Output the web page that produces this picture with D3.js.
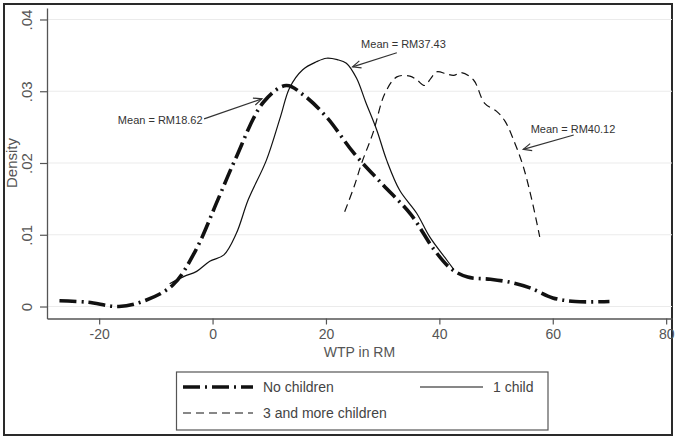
<!DOCTYPE html>
<html><head><meta charset="utf-8">
<script src="https://cdn.jsdelivr.net/npm/d3@7"></script>
<style>body{margin:0;background:#fff}svg{display:block}text{font-family:"Liberation Sans",Arial,sans-serif}</style>
</head><body><svg id="c" width="676" height="439"></svg>
<script>
// ---- data ----
const xTicks = [-20, 0, 20, 40, 60, 80];
const yTicks = [0, 0.01, 0.02, 0.03, 0.04];
const yTickLabels = ["0", ".01", ".02", ".03", ".04"];
const noChildrenX = [-27, -22, -16.5, -12, -7, -3, 1, 4, 9, 13, 16, 20, 25, 30, 35, 39, 42, 45, 49, 53, 56, 60, 64, 70];
const noChildrenY = [0.0008, 0.0006, 0.0000, 0.0008, 0.0030, 0.0078, 0.0150, 0.0205, 0.0285, 0.0308, 0.0295, 0.0265, 0.0213, 0.0170, 0.0128, 0.0080, 0.0053, 0.0041, 0.0038, 0.0033, 0.0026, 0.0012, 0.0007, 0.0007];
const oneChildX = [-7.5, -5, -2.8, -0.5, 2, 4.2, 6.3, 9.5, 12, 13.6, 15.9, 18.3, 20.1, 22, 23.6, 25.4, 27, 29, 30.7, 33, 36, 38.3, 41, 42.5];
const oneChildY = [0.0032, 0.0042, 0.0049, 0.0063, 0.0072, 0.0102, 0.0149, 0.0204, 0.0265, 0.0305, 0.0330, 0.0341, 0.0346, 0.0344, 0.0339, 0.0318, 0.0285, 0.0245, 0.0204, 0.0162, 0.0130, 0.0097, 0.0068, 0.0052];
const threeX = [23.3, 25, 26.3, 28.3, 30.4, 32.5, 34.8, 36, 37.4, 38.5, 39.5, 41.3, 42.5, 43.9, 46, 48, 50.1, 51.6, 53.3, 54.8, 56.3, 57.7];
const threeY = [0.0132, 0.0168, 0.0200, 0.0242, 0.0297, 0.0320, 0.0321, 0.0316, 0.0308, 0.0318, 0.0327, 0.0324, 0.0322, 0.0326, 0.0316, 0.0283, 0.0272, 0.0258, 0.0228, 0.0195, 0.0149, 0.0097];
const seriesNames = ["No children", "1 child", "3 and more children"];
const annTexts = ["Mean = RM18.62", "Mean = RM37.43", "Mean = RM40.12"];
const annTextPos = [[-16.7, 0.02545], [26.2, 0.03605], [56.1, 0.0242]];
const annArrowFrom = [[-1.5, 0.02615], [32.5, 0.03536], [63.7, 0.0239]];
const annArrowTo = [[8.7, 0.02894], [24.7, 0.0334], [54.8, 0.0219]];

// ---- layout ----
const svg = d3.select("#c");
const L = 47, R = 672, T = 8, B = 318.5;
const x = d3.scaleLinear().domain([-29.2, 81.03]).range([L, R]);
const y = d3.scaleLinear().domain([-0.00167, 0.0416]).range([B, T]);

svg.append("rect").attr("x", 4).attr("y", 4).attr("width", 668).attr("height", 431)
  .attr("fill", "#fff").attr("stroke", "#2a2a2a").attr("stroke-width", 2);

// gridlines
svg.append("g").selectAll("line").data(yTicks).join("line")
  .attr("x1", L).attr("x2", R).attr("y1", d => y(d)).attr("y2", d => y(d))
  .attr("stroke", "#ebebeb").attr("stroke-width", 1.2);

// axes
const gx = svg.append("g").attr("transform", `translate(0,${B})`)
  .call(d3.axisBottom(x).tickValues(xTicks).tickSize(6).tickSizeOuter(0).tickPadding(5).tickFormat(d => String(d)));
const gy = svg.append("g").attr("transform", `translate(${L},0)`)
  .call(d3.axisLeft(y).tickValues(yTicks).tickSize(7).tickSizeOuter(0).tickFormat((d, i) => yTickLabels[i]));
[gx, gy].forEach(g => {
  g.select(".domain").attr("stroke", "#555").attr("stroke-width", 1.3);
  g.selectAll(".tick line").attr("stroke", "#555").attr("stroke-width", 1.2);
  g.selectAll(".tick text").attr("fill", "#555").attr("font-size", 14);
});
gy.selectAll(".tick text").attr("text-anchor", "middle").attr("dy", 0)
  .attr("transform", "rotate(-90)").attr("x", 0).attr("y", -15)
  .attr("font-size", 15);

svg.append("text").attr("x", (L + R) / 2).attr("y", 357).attr("text-anchor", "middle")
  .attr("font-size", 14).attr("fill", "#555").text("WTP in RM");
svg.append("text").attr("transform", `translate(17,${y(0.02)}) rotate(-90)`).attr("text-anchor", "middle")
  .attr("font-size", 15).attr("fill", "#555").text("Density");

// curves
const line = d3.line().x(d => x(d[0])).y(d => y(d[1])).curve(d3.curveCatmullRom.alpha(0.5));
const styles = [
  { w: 3.6, dash: "17,5,2,5", cap: "butt" },
  { w: 1.2, dash: null, cap: "round" },
  { w: 1.2, dash: "8,5", cap: "butt" }
];
const series = [
  d3.zip(noChildrenX, noChildrenY),
  d3.zip(oneChildX, oneChildY),
  d3.zip(threeX, threeY)
];
const drawOrder = [2, 1, 0];
drawOrder.forEach(i => {
  svg.append("path").attr("d", line(series[i])).attr("fill", "none")
    .attr("stroke", "#111").attr("stroke-width", styles[i].w)
    .attr("stroke-dasharray", styles[i].dash).attr("stroke-linecap", styles[i].cap)
    .attr("stroke-linejoin", "round");
});

// annotations
annTexts.forEach((t, i) => {
  svg.append("text").attr("x", x(annTextPos[i][0])).attr("y", y(annTextPos[i][1]))
    .attr("font-size", 11).attr("fill", "#333").text(t);
  const x1 = x(annArrowFrom[i][0]), y1 = y(annArrowFrom[i][1]);
  const x2 = x(annArrowTo[i][0]), y2 = y(annArrowTo[i][1]);
  svg.append("line").attr("x1", x1).attr("y1", y1).attr("x2", x2).attr("y2", y2)
    .attr("stroke", "#333").attr("stroke-width", 1.2);
  const a = Math.atan2(y1 - y2, x1 - x2), hl = 9, ha = 0.42;
  svg.append("path")
    .attr("d", `M${x2 + hl * Math.cos(a + ha)},${y2 + hl * Math.sin(a + ha)}L${x2},${y2}L${x2 + hl * Math.cos(a - ha)},${y2 + hl * Math.sin(a - ha)}`)
    .attr("fill", "none").attr("stroke", "#333").attr("stroke-width", 1.2);
});

// legend
svg.append("rect").attr("x", 176.5).attr("y", 372).attr("width", 371.5).attr("height", 58)
  .attr("fill", "#fff").attr("stroke", "#555").attr("stroke-width", 1.2);
const legPos = [[183, 387], [420, 387], [183, 413]];
const legLen = [70, 63, 70];
seriesNames.forEach((n, i) => {
  const [lx, ly] = legPos[i];
  svg.append("line").attr("x1", lx).attr("x2", lx + legLen[i]).attr("y1", ly).attr("y2", ly)
    .attr("stroke", "#111").attr("stroke-width", styles[i].w)
    .attr("stroke-dasharray", styles[i].dash).attr("stroke-linecap", "butt");
  svg.append("text").attr("x", lx + legLen[i] + 10).attr("y", ly + 5)
    .attr("font-size", 14).attr("fill", "#444").text(n);
});
</script></body></html>
